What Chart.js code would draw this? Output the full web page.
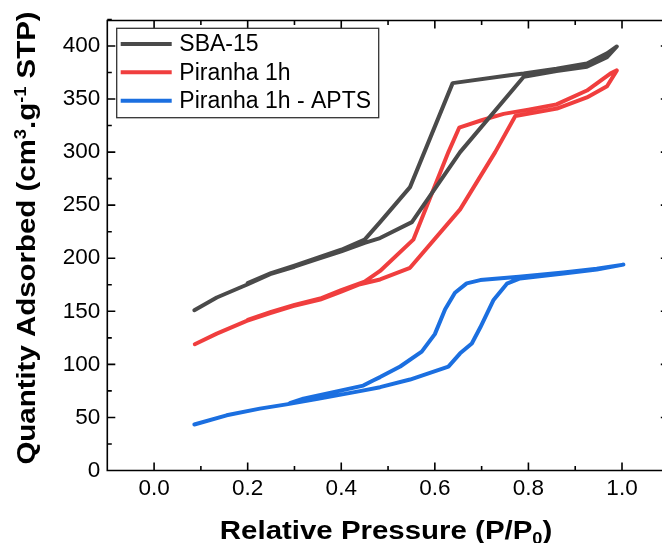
<!DOCTYPE html>
<html>
<head>
<meta charset="utf-8">
<script src="https://cdn.jsdelivr.net/npm/chart.js@4.4.1/dist/chart.umd.min.js"></script>
<style>
  html, body { margin: 0; padding: 0; background: #fff; overflow: hidden; }
  canvas { display: block; }
</style>
</head>
<body>
<canvas id="isotherm" width="680" height="543"></canvas>
<script>
const seriesNames = ['SBA-15', 'Piranha 1h', 'Piranha 1h - APTS'];
const seriesColors = ['#4a4a4a', '#f03e3e', '#1b6fe0'];

// each series: adsorption branch up to P/P0 ~ 1, then desorption branch back down
const sbaP = [0.086, 0.134, 0.198, 0.248, 0.30, 0.347, 0.40, 0.45, 0.483, 0.551, 0.654, 0.79, 0.86, 0.925, 0.968, 0.989,
              0.968, 0.925, 0.86, 0.79, 0.76, 0.638, 0.547, 0.483, 0.45, 0.40, 0.35, 0.30, 0.25, 0.20];
const sbaQ = [151, 163, 175, 185, 192, 199, 206.5, 214.5, 219, 234, 300, 371, 376.5, 380.5, 389.5, 399.5,
              393, 383.5, 378.5, 374, 372.5, 365, 267, 234, 217.5, 208, 200.5, 193, 186, 176.5];

const piranhaP = [0.087, 0.134, 0.198, 0.25, 0.297, 0.355, 0.40, 0.44, 0.483, 0.547, 0.654, 0.729, 0.772, 0.861, 0.925, 0.968, 0.989,
                  0.975, 0.95, 0.925, 0.86, 0.80, 0.747, 0.70, 0.652, 0.629, 0.554, 0.483, 0.45, 0.40, 0.355, 0.30, 0.25, 0.20];
const piranhaQ = [119, 129, 141, 148.5, 155, 161, 168.5, 175.5, 180, 191, 246, 300, 334, 341, 351.5, 362, 377,
                  374, 366, 358, 345, 340, 336, 330, 323, 300, 217.5, 188, 178, 170, 162, 156, 149.5, 142];

const aptsP = [0.086, 0.155, 0.226, 0.283, 0.35, 0.44, 0.483, 0.547, 0.629, 0.654, 0.679, 0.697, 0.725, 0.754, 0.782, 0.875, 0.946, 1.003,
               0.946, 0.875, 0.78, 0.697, 0.668, 0.643, 0.622, 0.60, 0.572, 0.526, 0.483, 0.468, 0.447, 0.319, 0.29];
const aptsQ = [43.3, 52, 58.3, 62.3, 67.5, 74.8, 78.5, 85.7, 97.9, 110.4, 119.7, 134.7, 160.4, 176, 181, 185.7, 189.4, 194,
               190, 186.5, 182.5, 179.4, 176.3, 167.5, 152, 128.5, 112, 98, 88, 84.8, 80, 67.6, 63.5];

const xTicks = [0, 0.2, 0.4, 0.6, 0.8, 1.0];
const yTicks = [0, 50, 100, 150, 200, 250, 300, 350, 400];

const FONT = '"Liberation Sans", Arial, sans-serif';

function toPoints(px, qy) {
    return px.map((p, i) => ({ x: p, y: qy[i] }));
}

function drawRich(ctx, parts, size) {
    const small = size * 0.62;
    let total = 0;
    parts.forEach((p) => {
        ctx.font = 'bold ' + (p.shift ? small : size) + 'px ' + FONT;
        p.w = ctx.measureText(p.text).width;
        total += p.w;
    });
    let x = -total / 2;
    parts.forEach((p) => {
        ctx.font = 'bold ' + (p.shift ? small : size) + 'px ' + FONT;
        const dy = p.shift === 'sup' ? -size * 0.36 : p.shift === 'sub' ? size * 0.2 : 0;
        ctx.fillText(p.text, x, dy);
        x += p.w;
    });
}

// box around the plot with inward ticks on every side
const tickMarks = {
    id: 'tickMarks',
    afterDatasetsDraw(chart) {
        const c = chart.ctx;
        const a = chart.chartArea;
        const sx = chart.scales.x;
        const sy = chart.scales.y;
        c.save();
        c.strokeStyle = '#000';
        c.lineWidth = 1.6;
        c.lineCap = 'butt';
        c.beginPath();
        c.rect(a.left, a.top, a.right - a.left, a.bottom - a.top);
        for (let i = -1; i <= 11; i++) {
            const px = sx.getPixelForValue(i / 10);
            const len = Math.abs(i) % 2 === 0 ? 8 : 4.5;
            c.moveTo(px, a.bottom);
            c.lineTo(px, a.bottom - len);
            c.moveTo(px, a.top);
            c.lineTo(px, a.top + len);
        }
        for (let v = 0; v <= 425; v += 25) {
            const py = sy.getPixelForValue(v);
            const len = v % 50 === 0 ? 8 : 4.5;
            c.moveTo(a.left, py);
            c.lineTo(a.left + len, py);
            c.moveTo(a.right, py);
            c.lineTo(a.right - len, py);
        }
        c.stroke();
        c.restore();
    }
};

const overlay = {
    id: 'overlay',
    afterDraw(chart) {
        const c = chart.ctx;
        const a = chart.chartArea;
        c.save();
        // legend box
        c.fillStyle = '#fff';
        c.fillRect(116.7, 28.3, 262, 89.4);
        c.lineWidth = 1.3;
        c.strokeStyle = '#333';
        c.strokeRect(116.7, 28.3, 262, 89.4);
        const rows = [44, 72.3, 100.7];
        c.font = '23px ' + FONT;
        c.textBaseline = 'middle';
        seriesNames.forEach((name, i) => {
            c.strokeStyle = seriesColors[i];
            c.lineWidth = 4;
            c.beginPath();
            c.moveTo(120.7, rows[i]);
            c.lineTo(171.7, rows[i]);
            c.stroke();
            c.fillStyle = '#000';
            c.fillText(name, 179.3, rows[i] + 1);
        });

        // axis titles
        c.fillStyle = '#000';
        c.textBaseline = 'alphabetic';
        c.save();
        c.translate((a.left + a.right) / 2 - 2, 538.8);
        c.scale(1.15, 1);
        drawRich(c, [{ text: 'Relative Pressure (P/P' }, { text: '0', shift: 'sub' }, { text: ')' }], 25.6);
        c.restore();

        c.save();
        c.translate(35, 238);
        c.rotate(-Math.PI / 2);
        c.scale(1.15, 1);
        drawRich(c, [
            { text: 'Quantity Adsorbed (cm' }, { text: '3', shift: 'sup' },
            { text: '.g' }, { text: '-1', shift: 'sup' }, { text: ' STP)' }
        ], 25.6);
        c.restore();
        c.restore();
    }
};

const ctx = document.getElementById('isotherm').getContext('2d');

const pointSets = [toPoints(sbaP, sbaQ), toPoints(piranhaP, piranhaQ), toPoints(aptsP, aptsQ)];

new Chart(ctx, {
    type: 'line',
    data: {
        datasets: pointSets.map((pts, i) => ({
            label: seriesNames[i],
            data: pts,
            borderColor: seriesColors[i],
            backgroundColor: seriesColors[i],
            borderWidth: 4,
            pointRadius: 0,
            tension: 0,
            fill: false,
            borderJoinStyle: 'round',
            borderCapStyle: 'round'
        }))
    },
    options: {
        responsive: false,
        animation: false,
        layout: { padding: { top: 18.3, right: 11.2, left: 0, bottom: 0 } },
        plugins: {
            legend: { display: false },
            tooltip: { enabled: false }
        },
        scales: {
            x: {
                type: 'linear',
                min: -0.1,
                max: 1.1,
                afterBuildTicks: (s) => { s.ticks = xTicks.map((v) => ({ value: v })); },
                afterFit: (s) => { s.height = 72.5; },
                grid: { display: false, drawTicks: false },
                border: { display: false },
                ticks: {
                    callback: (v) => v.toFixed(1),
                    color: '#000',
                    padding: 5,
                    maxRotation: 0,
                    autoSkip: false,
                    font: { family: FONT, size: 22.5 }
                }
            },
            y: {
                min: 0,
                max: 424,
                afterBuildTicks: (s) => { s.ticks = yTicks.map((v) => ({ value: v })); },
                afterFit: (s) => { s.width = 107.3; },
                grid: { display: false, drawTicks: false },
                border: { display: false },
                ticks: {
                    color: '#000',
                    padding: 7,
                    autoSkip: false,
                    font: { family: FONT, size: 22.5 }
                }
            }
        }
    },
    plugins: [tickMarks, overlay]
});
</script>
</body>
</html>
